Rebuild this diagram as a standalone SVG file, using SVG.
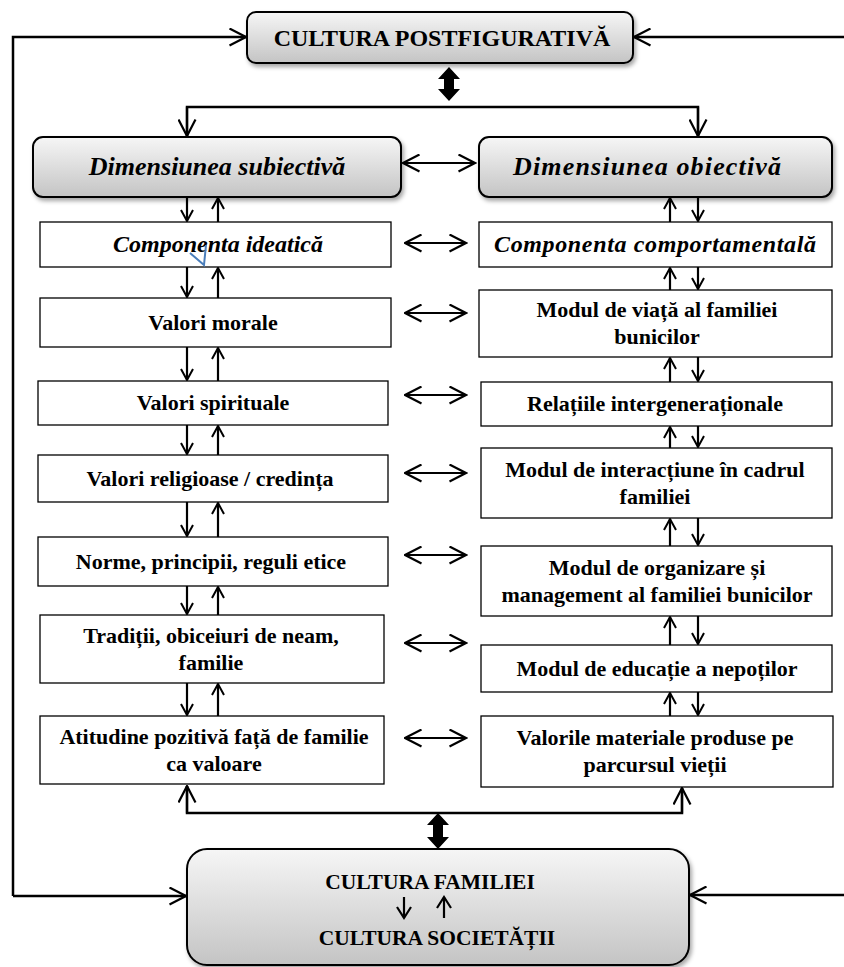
<svg xmlns="http://www.w3.org/2000/svg" width="844" height="967" viewBox="0 0 844 967">
<style>
  text { font-family: 'Liberation Serif', 'Times New Roman', Times, 'DejaVu Serif', serif; font-weight: 700; text-anchor: middle; fill: #000; }
  .t24 { font-size: 24px; }
  .t22 { font-size: 21.5px; }
  .dim { font-size: 26px; font-style: italic; }
  .comp { font-size: 24px; font-style: italic; }
  .b { font-size: 22px; }
  .box { fill: #fff; stroke: #000; stroke-width: 1.3; }
  .gbox { fill: url(#grad); stroke: #000; stroke-width: 2; filter: url(#sh); }
  .ln { fill: none; stroke: #000; stroke-width: 2.5; }
  .ar { fill: none; stroke: #000; stroke-width: 2.2; }
  .big { marker-end: url(#ah); }
  .dbl { marker-start: url(#ah); marker-end: url(#ah); }
  .sm { marker-end: url(#as); }
  .thick { fill: #000; stroke: none; }
</style>
<defs>
  <linearGradient id="grad" x1="0" y1="0" x2="0" y2="1">
    <stop offset="0" stop-color="#f6f6f6"/>
    <stop offset="1" stop-color="#c4c4c4"/>
  </linearGradient>
  <filter id="sh" x="-10%" y="-10%" width="125%" height="140%">
    <feDropShadow dx="2" dy="3" stdDeviation="2" flood-color="#000" flood-opacity="0.35"/>
  </filter>
  <marker id="ah" viewBox="0 0 19 19" refX="17.5" refY="9.5" markerWidth="19" markerHeight="19" markerUnits="userSpaceOnUse" orient="auto-start-reverse">
    <path d="M1,1 L17.5,9.5 L1,18" fill="none" stroke="#000" stroke-width="2.2" stroke-linejoin="miter"/>
  </marker>
  <marker id="as" viewBox="0 0 13 14" refX="12" refY="7" markerWidth="13" markerHeight="14" markerUnits="userSpaceOnUse" orient="auto">
    <path d="M1,1 L12,7 L1,13" fill="none" stroke="#000" stroke-width="2"/>
  </marker>
</defs>

<g id="connectors">
  <polyline class="ln big" points="13,896 13,37 246,37"/>
  <line class="ln big" x1="844" y1="37" x2="634" y2="37"/>
  <line class="ln big" x1="13" y1="896" x2="186" y2="896"/>
  <line class="ln big" x1="844" y1="895" x2="690" y2="895"/>
  <path class="thick" d="M449,67 L460,79 L454,79 L454,89 L460,89 L449,101 L438,89 L444,89 L444,79 L438,79 Z"/>
  <polyline class="ln" points="187,136 187,107 698,107 698,136"/>
  <line class="ar big" x1="187" y1="107" x2="187" y2="136"/>
  <line class="ar big" x1="698" y1="107" x2="698" y2="136"/>
  <polyline class="ln" points="187,786 187,813 682,813 682,788"/>
  <line class="ar big" x1="187" y1="813" x2="187" y2="786"/>
  <line class="ar big" x1="682" y1="813" x2="682" y2="788"/>
  <path class="thick" d="M438,813 L449,825 L443,825 L443,837 L449,837 L438,849 L427,837 L433,837 L433,825 L427,825 Z"/>
  <line class="ar dbl" x1="403" y1="163" x2="475" y2="163"/>
  <line class="ar dbl" x1="405" y1="243" x2="466" y2="243"/>
  <line class="ar dbl" x1="405" y1="313" x2="466" y2="313"/>
  <line class="ar dbl" x1="405" y1="395" x2="466" y2="395"/>
  <line class="ar dbl" x1="405" y1="473" x2="466" y2="473"/>
  <line class="ar dbl" x1="405" y1="555" x2="466" y2="555"/>
  <line class="ar dbl" x1="405" y1="643" x2="466" y2="643"/>
  <line class="ar dbl" x1="405" y1="738" x2="466" y2="738"/>
  <line class="ar sm" x1="187" y1="197" x2="187" y2="221"/>
  <line class="ar sm" x1="218" y1="222" x2="218" y2="198"/>
  <line class="ar sm" x1="187" y1="267" x2="187" y2="297"/>
  <line class="ar sm" x1="218" y1="298" x2="218" y2="268"/>
  <line class="ar sm" x1="187" y1="347" x2="187" y2="380"/>
  <line class="ar sm" x1="218" y1="381" x2="218" y2="348"/>
  <line class="ar sm" x1="187" y1="425" x2="187" y2="454"/>
  <line class="ar sm" x1="218" y1="455" x2="218" y2="426"/>
  <line class="ar sm" x1="187" y1="502" x2="187" y2="536"/>
  <line class="ar sm" x1="218" y1="537" x2="218" y2="503"/>
  <line class="ar sm" x1="187" y1="586" x2="187" y2="614"/>
  <line class="ar sm" x1="218" y1="615" x2="218" y2="587"/>
  <line class="ar sm" x1="187" y1="683" x2="187" y2="715"/>
  <line class="ar sm" x1="218" y1="716" x2="218" y2="684"/>
  <line class="ar sm" x1="670" y1="222" x2="670" y2="198"/>
  <line class="ar sm" x1="698" y1="197" x2="698" y2="221"/>
  <line class="ar sm" x1="670" y1="290" x2="670" y2="268"/>
  <line class="ar sm" x1="698" y1="267" x2="698" y2="289"/>
  <line class="ar sm" x1="670" y1="382" x2="670" y2="358"/>
  <line class="ar sm" x1="698" y1="357" x2="698" y2="381"/>
  <line class="ar sm" x1="670" y1="448" x2="670" y2="427"/>
  <line class="ar sm" x1="698" y1="426" x2="698" y2="447"/>
  <line class="ar sm" x1="670" y1="546" x2="670" y2="519"/>
  <line class="ar sm" x1="698" y1="518" x2="698" y2="545"/>
  <line class="ar sm" x1="670" y1="645" x2="670" y2="617"/>
  <line class="ar sm" x1="698" y1="616" x2="698" y2="644"/>
  <line class="ar sm" x1="670" y1="716" x2="670" y2="693"/>
  <line class="ar sm" x1="698" y1="692" x2="698" y2="715"/>
</g>

<g id="n-postfig">
  <rect class="gbox" x="247" y="12" width="386" height="51" rx="9"/>
  <text class="t24" x="442" y="46">CULTURA POSTFIGURATIVĂ</text>
</g>
<g id="n-dimsub">
  <rect class="gbox" x="33" y="137" width="368" height="60" rx="10"/>
  <text class="dim" x="217" y="175">Dimensiunea subiectivă</text>
</g>
<g id="n-dimobj">
  <rect class="gbox" x="479" y="137" width="353" height="60" rx="10"/>
  <text class="dim" x="647" y="175" textLength="268" lengthAdjust="spacing">Dimensiunea obiectivă</text>
</g>

<g id="n-compid">
  <rect class="box" x="40" y="222" width="351" height="45"/>
  <text class="comp" x="218" y="252">Componenta ideatică</text>
  <path d="M190,253 L204,265 L206,245" fill="none" stroke="#4a7ebb" stroke-width="2"/>
</g>
<g id="n-compcomp">
  <rect class="box" x="479" y="222" width="353" height="45"/>
  <text class="comp" x="655" y="252" textLength="322" lengthAdjust="spacing">Componenta comportamentală</text>
</g>

<g id="n-morale">
  <rect class="box" x="40" y="298" width="351" height="49"/>
  <text class="b" x="213" y="330">Valori morale</text>
</g>
<g id="n-spirit">
  <rect class="box" x="38" y="381" width="350" height="44"/>
  <text class="b" x="213" y="410">Valori spirituale</text>
</g>
<g id="n-relig">
  <rect class="box" x="38" y="455" width="350" height="47"/>
  <text class="b" x="210" y="486">Valori religioase / credința</text>
</g>
<g id="n-norme">
  <rect class="box" x="38" y="537" width="350" height="49"/>
  <text class="b" x="211" y="569">Norme, principii, reguli etice</text>
</g>
<g id="n-traditii">
  <rect class="box" x="40" y="615" width="344" height="68"/>
  <text class="b" x="211" y="643">Tradiții, obiceiuri de neam,</text>
  <text class="b" x="211" y="670">familie</text>
</g>
<g id="n-atitudine">
  <rect class="box" x="40" y="716" width="344" height="68"/>
  <text class="b" x="214" y="744">Atitudine pozitivă față de familie</text>
  <text class="b" x="214" y="771">ca valoare</text>
</g>

<g id="n-modviata">
  <rect class="box" x="479" y="290" width="353" height="67"/>
  <text class="b" x="657" y="317">Modul de viață al familiei</text>
  <text class="b" x="657" y="344">bunicilor</text>
</g>
<g id="n-relatii">
  <rect class="box" x="481" y="382" width="351" height="44"/>
  <text class="b" x="655" y="411">Relațiile intergeneraționale</text>
</g>
<g id="n-interact">
  <rect class="box" x="481" y="448" width="351" height="70"/>
  <text class="b" x="655" y="477">Modul de interacțiune în cadrul</text>
  <text class="b" x="655" y="504">familiei</text>
</g>
<g id="n-organiz">
  <rect class="box" x="481" y="546" width="351" height="70"/>
  <text class="b" x="657" y="575">Modul de organizare și</text>
  <text class="b" x="657" y="602">management al familiei bunicilor</text>
</g>
<g id="n-educatie">
  <rect class="box" x="481" y="645" width="351" height="47"/>
  <text class="b" x="657" y="676">Modul de educație a nepoților</text>
</g>
<g id="n-valmat">
  <rect class="box" x="481" y="716" width="352" height="71"/>
  <text class="b" x="655" y="745">Valorile materiale produse pe</text>
  <text class="b" x="655" y="772">parcursul vieții</text>
</g>

<g id="n-culturafam">
  <rect class="gbox" x="187" y="849" width="502" height="116" rx="20"/>
  <text class="t22" x="430" y="889">CULTURA FAMILIEI</text>
  <line class="ar" x1="404" y1="897" x2="404" y2="918"/>
  <polyline class="ar" points="397,907 404,918 411,907"/>
  <line class="ar" x1="444" y1="918" x2="444" y2="897"/>
  <polyline class="ar" points="437,908 444,897 451,908"/>
  <text class="t22" x="437" y="945">CULTURA SOCIETĂȚII</text>
</g>
</svg>
